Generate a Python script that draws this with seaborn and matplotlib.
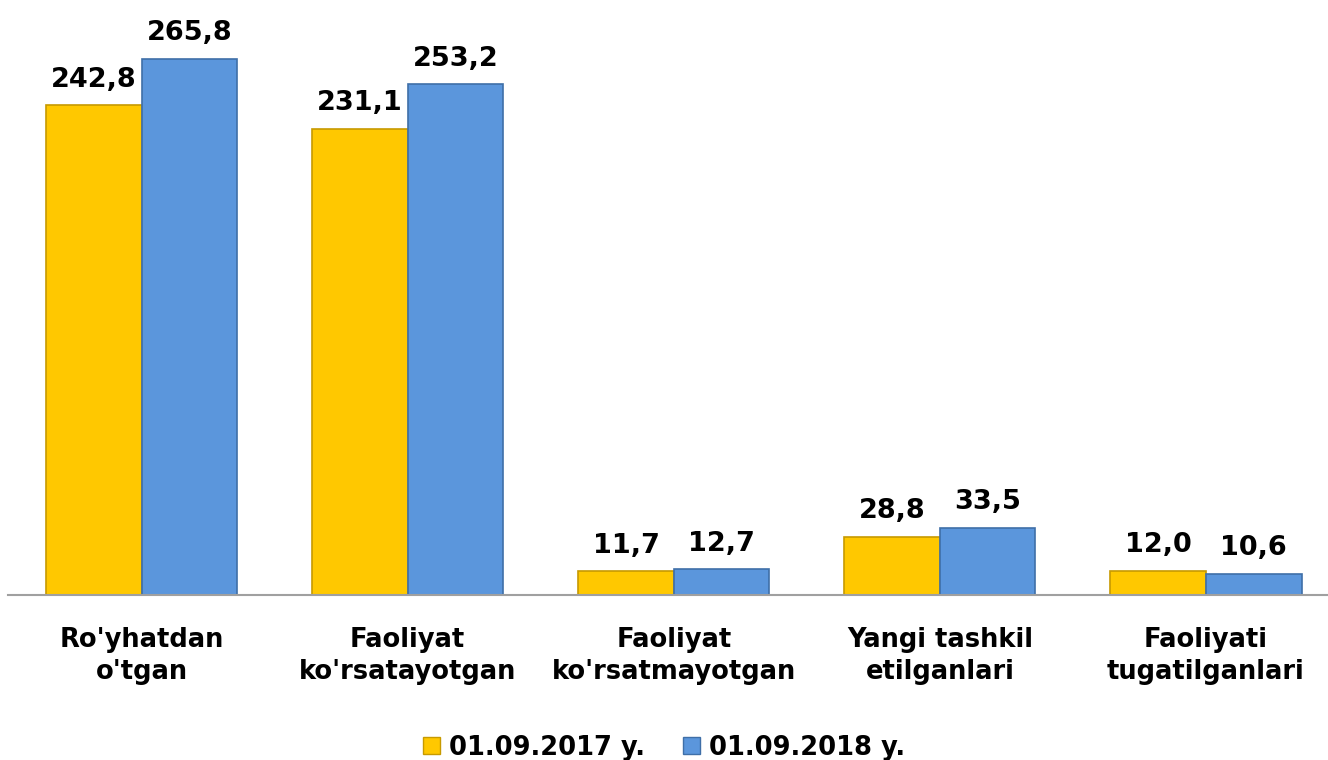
import matplotlib
matplotlib.use("Agg")
import matplotlib.pyplot as plt
import seaborn as sns
import pandas as pd
from matplotlib.patches import Patch

categories = ["Ro'yhatdan\no'tgan", "Faoliyat\nko'rsatayotgan", "Faoliyat\nko'rsatmayotgan",
              "Yangi tashkil\netilganlari", "Faoliyati\ntugatilganlari"]
series = ["01.09.2017 y.", "01.09.2018 y."]
values_2017 = [242.8, 231.1, 11.7, 28.8, 12.0]
values_2018 = [265.8, 253.2, 12.7, 33.5, 10.6]
colors = ["#FFC800", "#5B96DC"]
edges = ["#C79A00", "#3F6FA8"]

df = pd.DataFrame({
    "cat": categories * 2,
    "series": [series[0]] * 5 + [series[1]] * 5,
    "value": values_2017 + values_2018,
})

sns.set_theme(style="white")
plt.rcParams['font.family'] = ['DejaVu Sans']

fig = plt.figure(figsize=(13.28, 7.6), dpi=100)
ax = fig.add_axes([0.0064, 0.217, 1.0019, 0.783])

sns.barplot(data=df, x="cat", y="value", hue="series", palette=colors,
            width=0.718, ax=ax, legend=False, saturation=1)

for i, cont in enumerate(ax.containers):
    for p in cont:
        p.set_edgecolor(edges[i])
        p.set_linewidth(1.2)
    ax.bar_label(cont, labels=[f"{v:.1f}".replace('.', ',') for v in cont.datavalues],
                 padding=9, fontsize=19.5, fontweight='bold', color='black')

ax.set_ylim(0, 295)
ax.set_xlim(-0.5, 4.5)
ax.set_xlabel("")
ax.set_ylabel("")
ax.set_yticks([])
ax.tick_params(axis='x', length=0, pad=23, labelsize=18.5, labelcolor='black')
for lbl in ax.get_xticklabels():
    lbl.set_fontweight('bold')
    lbl.set_linespacing(1.3)
for s in ["top", "right", "left"]:
    ax.spines[s].set_visible(False)
ax.spines["bottom"].set_color("#A0A0A0")
ax.spines["bottom"].set_linewidth(1.5)

handles = [Patch(facecolor=colors[i], edgecolor=edges[i], label=series[i]) for i in range(2)]
leg = fig.legend(handles=handles, loc='center', bbox_to_anchor=(0.5, 0.016), ncol=2, frameon=False,
                 prop={'weight': 'bold', 'size': 18.5}, handlelength=0.65, handleheight=0.65,
                 handletextpad=0.35, columnspacing=1.5)
for t in leg.get_texts():
    t.set_color('black')

fig.savefig("out.png", dpi=100)
